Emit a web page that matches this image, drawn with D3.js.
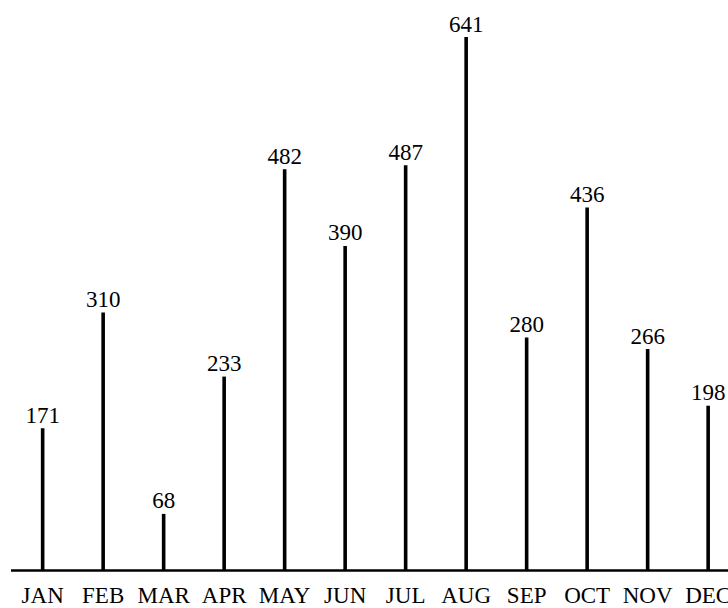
<!DOCTYPE html>
<html><head><meta charset="utf-8">
<script src="https://cdn.jsdelivr.net/npm/d3@7"></script>
<style>html,body{margin:0;padding:0;background:#fff;overflow:hidden}</style>
</head><body>
<svg id="chart" width="728" height="608"></svg>
<script>
const months = ["JAN","FEB","MAR","APR","MAY","JUN","JUL","AUG","SEP","OCT","NOV","DEC"];
const values = [171,310,68,233,482,390,487,641,280,436,266,198];

const svg = d3.select("#chart");
const baseY = 570.5;
const x = d3.scaleBand().domain(months).range([12.4, 738.4]).padding(0);
const y = d3.scaleLinear().domain([0, d3.max(values)]).range([baseY, 37]);
const font = "'Liberation Serif','Times New Roman',serif";

const data = months.map((m, i) => ({m, v: values[i]}));

svg.append("g").selectAll("line").data(data).join("line")
  .attr("x1", d => x(d.m) + x.bandwidth()/2)
  .attr("x2", d => x(d.m) + x.bandwidth()/2)
  .attr("y1", baseY)
  .attr("y2", d => y(d.v))
  .attr("stroke", "#000").attr("stroke-width", 3.6);

svg.append("g").selectAll("text").data(data).join("text")
  .attr("x", d => x(d.m) + x.bandwidth()/2)
  .attr("y", d => y(d.v) - 5.5)
  .attr("text-anchor", "middle")
  .attr("font-family", font).attr("font-size", 23)
  .attr("fill", "#000")
  .text(d => d.v);

const axis = svg.append("g").attr("transform", `translate(0,${baseY})`)
  .call(d3.axisBottom(x).tickSize(0).tickPadding(0));
axis.select(".domain").remove();
axis.append("line").attr("x1", 11).attr("x2", 728).attr("y1", 0).attr("y2", 0)
  .attr("stroke", "#000").attr("stroke-width", 2.6);
axis.selectAll(".tick text")
  .attr("font-family", font).attr("font-size", 23).attr("fill", "#000")
  .attr("dy", null).attr("y", 32);
</script>
</body></html>
